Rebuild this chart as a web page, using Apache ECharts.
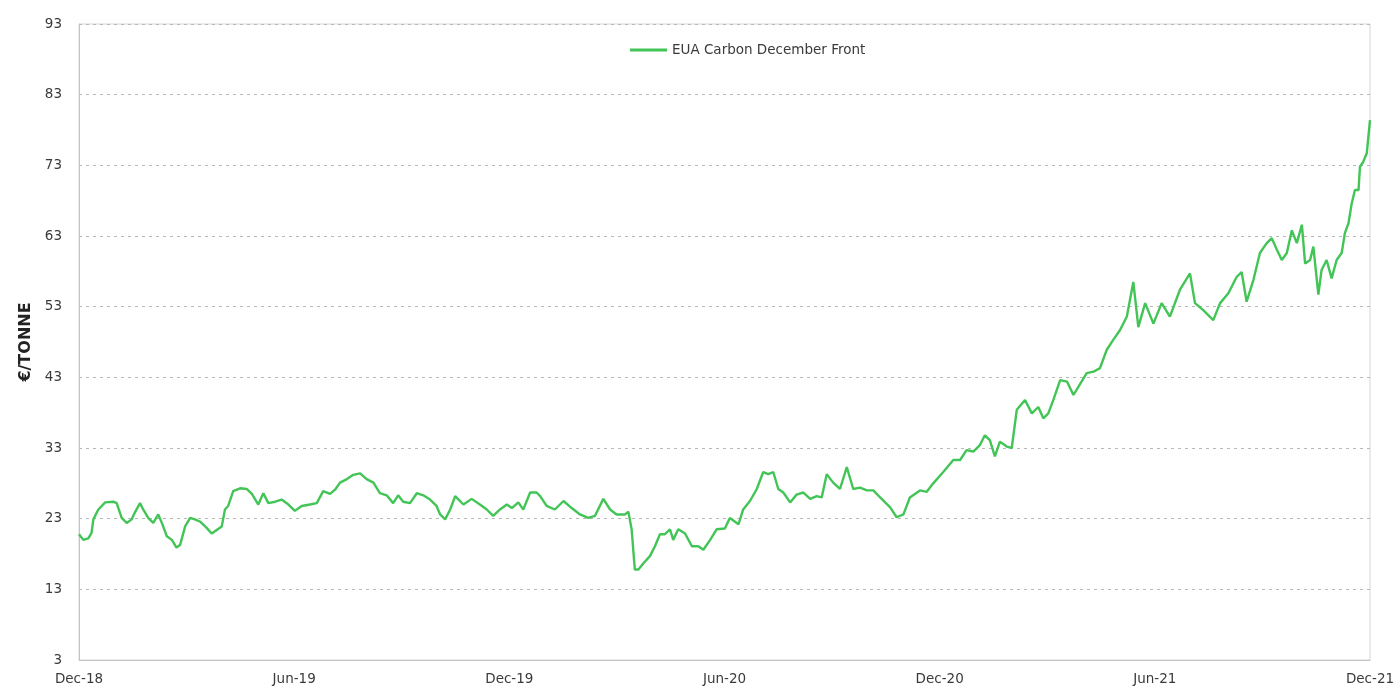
<!DOCTYPE html>
<html lang="en">
<head>
  <meta charset="UTF-8">
  <title>EUA Carbon December Front</title>
  <script src="https://cdn.jsdelivr.net/npm/echarts@6/dist/echarts.min.js"></script>
  <style>
    html, body {
      margin: 0;
      padding: 0;
      background-color: #ffffff;
      overflow: hidden;
    }
    #chart {
      width: 1394px;
      height: 692px;
    }
  </style>
</head>
<body>
  <div id="chart"></div>

  <script>
    // x tick labels, one every 6 months starting Dec-18
    var tickLabels = ['Dec-18', 'Jun-19', 'Dec-19', 'Jun-20', 'Dec-20', 'Jun-21', 'Dec-21'];

    // time position of each reading, in months since Dec-18
    var monthsFromDec18 = [
      0, 0.12, 0.26, 0.35, 0.40, 0.54, 0.73, 0.96, 1.05, 1.19, 1.33, 1.47, 1.56, 1.70, 1.79,
      1.93, 2.07, 2.21, 2.31, 2.45, 2.59, 2.72, 2.82, 2.96, 3.10, 3.23, 3.37, 3.56, 3.70, 3.84,
      3.98, 4.07, 4.16, 4.30, 4.49, 4.68, 4.82, 5.00, 5.14, 5.28, 5.47, 5.65, 5.84, 6.02, 6.21,
      6.44, 6.63, 6.81, 7.00, 7.14, 7.28, 7.47, 7.65, 7.84, 8.02, 8.21, 8.39, 8.58, 8.76, 8.90,
      9.04, 9.23, 9.42, 9.60, 9.79, 9.97,
      10.07, 10.21, 10.35, 10.49, 10.72, 10.95, 11.18, 11.37, 11.55, 11.74, 11.93, 12.07, 12.25, 12.39, 12.58,
      12.76, 12.86, 13.04, 13.27, 13.51, 13.74, 13.97, 14.20, 14.39, 14.62, 14.81, 14.99, 15.23, 15.32, 15.41,
      15.50, 15.60, 15.74, 15.92, 16.06, 16.20, 16.34, 16.48, 16.57, 16.71, 16.90, 17.09, 17.27, 17.41, 17.60,
      17.78, 18.01, 18.15, 18.39, 18.52, 18.71, 18.90, 19.08, 19.22, 19.36, 19.50, 19.64, 19.83, 20.01, 20.20,
      20.39, 20.57, 20.71, 20.85, 21.03, 21.22, 21.41, 21.59, 21.78, 21.97, 22.15,
      22.34, 22.62, 22.80, 22.99, 23.17, 23.45, 23.64, 23.82, 24.10, 24.38, 24.57, 24.75, 24.94, 25.12, 25.26,
      25.40, 25.54, 25.68, 25.87, 26.01, 26.15, 26.38, 26.57, 26.75, 26.89, 27.03, 27.17, 27.36, 27.55, 27.73,
      27.91, 28.10, 28.29, 28.47, 28.66, 28.84,
      29.03, 29.22, 29.40, 29.54, 29.73, 29.96, 30.19, 30.42, 30.70, 30.98, 31.12, 31.35, 31.63, 31.82, 32.05,
      32.28, 32.42, 32.56, 32.75, 32.93, 33.12, 33.26, 33.40, 33.54, 33.68, 33.82, 33.96, 34.10, 34.19, 34.33,
      34.42, 34.56, 34.65, 34.79, 34.93, 35.07, 35.21, 35.30, 35.40, 35.49, 35.58, 35.68, 35.72, 35.81, 35.91,
      36.00
    ];

    // EUA price, EUR per tonne
    var euaPrice = [
      20.8, 20.0, 20.2, 21.0, 22.9, 24.3, 25.3, 25.4, 25.2, 23.1, 22.4, 22.9, 23.9, 25.2, 24.3,
      23.1, 22.4, 23.6, 22.4, 20.5, 20.0, 18.9, 19.3, 21.9, 23.1, 22.9, 22.6, 21.7, 20.9, 21.4,
      21.9, 24.3, 24.8, 26.9, 27.3, 27.2, 26.5, 25.0, 26.6, 25.2, 25.4, 25.7, 25.0, 24.1, 24.8,
      25.0, 25.2, 26.9, 26.5, 27.1, 28.1, 28.6, 29.2, 29.4, 28.6, 28.1, 26.6, 26.3, 25.2, 26.3,
      25.4, 25.2, 26.6, 26.3, 25.7, 24.8,
      23.6, 22.9, 24.3, 26.2, 25.0, 25.8, 25.0, 24.3, 23.4, 24.3, 25.0, 24.5, 25.3, 24.3, 26.7,
      26.7, 26.2, 24.8, 24.3, 25.5, 24.5, 23.6, 23.1, 23.4, 25.8, 24.3, 23.6, 23.6, 24.0, 21.5,
      15.8, 15.8, 16.7, 17.7, 19.1, 20.8, 20.8, 21.5, 20.0, 21.5, 20.9, 19.1, 19.1, 18.6, 20.0,
      21.5, 21.6, 23.1, 22.2, 24.3, 25.5, 27.2, 29.6, 29.3, 29.6, 27.2, 26.7, 25.3, 26.4, 26.7,
      25.8, 26.2, 26.0, 29.3, 28.1, 27.2, 30.3, 27.2, 27.4, 27.0, 27.0,
      26.0, 24.6, 23.2, 23.6, 26.0, 27.0, 26.8, 28.0, 29.6, 31.3, 31.3, 32.7, 32.5, 33.4, 34.8,
      34.1, 31.8, 33.9, 33.2, 33.0, 38.4, 39.8, 37.9, 38.8, 37.2, 37.9, 39.8, 42.6, 42.4, 40.5,
      42.0, 43.6, 43.8, 44.3, 46.9, 48.3,
      49.7, 51.6, 56.5, 50.1, 53.5, 50.6, 53.5, 51.6, 55.4, 57.7, 53.5, 52.5, 51.1, 53.5, 54.9,
      57.2, 57.9, 53.7, 56.8, 60.6, 62.0, 62.7, 61.1, 59.6, 60.6, 63.8, 62.0, 64.6, 59.1, 59.6,
      61.5, 54.7, 58.2, 59.6, 57.0, 59.6, 60.6, 63.4, 64.8, 67.6, 69.5, 69.5, 72.8, 73.5, 74.7,
      79.4
    ];

    var chart = echarts.init(document.getElementById('chart'));

    var seriesData = monthsFromDec18.map(function (m, i) {
      return [m, euaPrice[i]];
    });

    var font = 'DejaVu Sans, Verdana, sans-serif';

    var option = {
      backgroundColor: '#ffffff',
      animation: false,
      textStyle: { fontFamily: font },
      legend: {
        left: 625,
        top: 38,
        icon: 'rect',
        itemWidth: 37,
        itemHeight: 3,
        itemGap: 6,
        textStyle: { color: '#3a3a3a', fontSize: 13.5, fontFamily: font },
        data: ['EUA Carbon December Front']
      },
      grid: {
        left: 79,
        right: 24,
        top: 24,
        bottom: 32,
        show: true,
        borderColor: '#d6d6d6',
        borderWidth: 1,
        containLabel: false,
        outerBoundsMode: 'none'
      },
      xAxis: {
        type: 'value',
        min: 0,
        max: 36,
        interval: 6,
        axisLine: { show: true, lineStyle: { color: '#c4c4c4', width: 1 } },
        axisTick: { show: false },
        splitLine: { show: false },
        axisLabel: {
          color: '#3a3a3a',
          fontSize: 13.5,
          fontFamily: font,
          margin: 12,
          showMinLabel: true,
          showMaxLabel: true,
          formatter: function (v) {
            return tickLabels[Math.round(v / 6)] || '';
          }
        }
      },
      yAxis: {
        type: 'value',
        min: 3,
        max: 93,
        interval: 10,
        name: '€/TONNE',
        nameLocation: 'middle',
        nameRotate: 90,
        nameGap: 42,
        nameTextStyle: { color: '#222222', fontSize: 16, fontWeight: 'bold', fontFamily: font },
        axisLine: { show: true, lineStyle: { color: '#c4c4c4', width: 1 } },
        axisTick: { show: false },
        axisLabel: { color: '#3a3a3a', fontSize: 13.5, fontFamily: font, margin: 17 },
        splitLine: {
          show: true,
          lineStyle: { color: '#b8b8b8', type: [3, 4], width: 1.2 }
        }
      },
      series: [
        {
          name: 'EUA Carbon December Front',
          type: 'line',
          data: seriesData,
          showSymbol: false,
          symbol: 'none',
          color: '#42c556',
          lineStyle: { color: '#42c556', width: 2.4 }
        }
      ]
    };

    chart.setOption(option);
  </script>
</body>
</html>
